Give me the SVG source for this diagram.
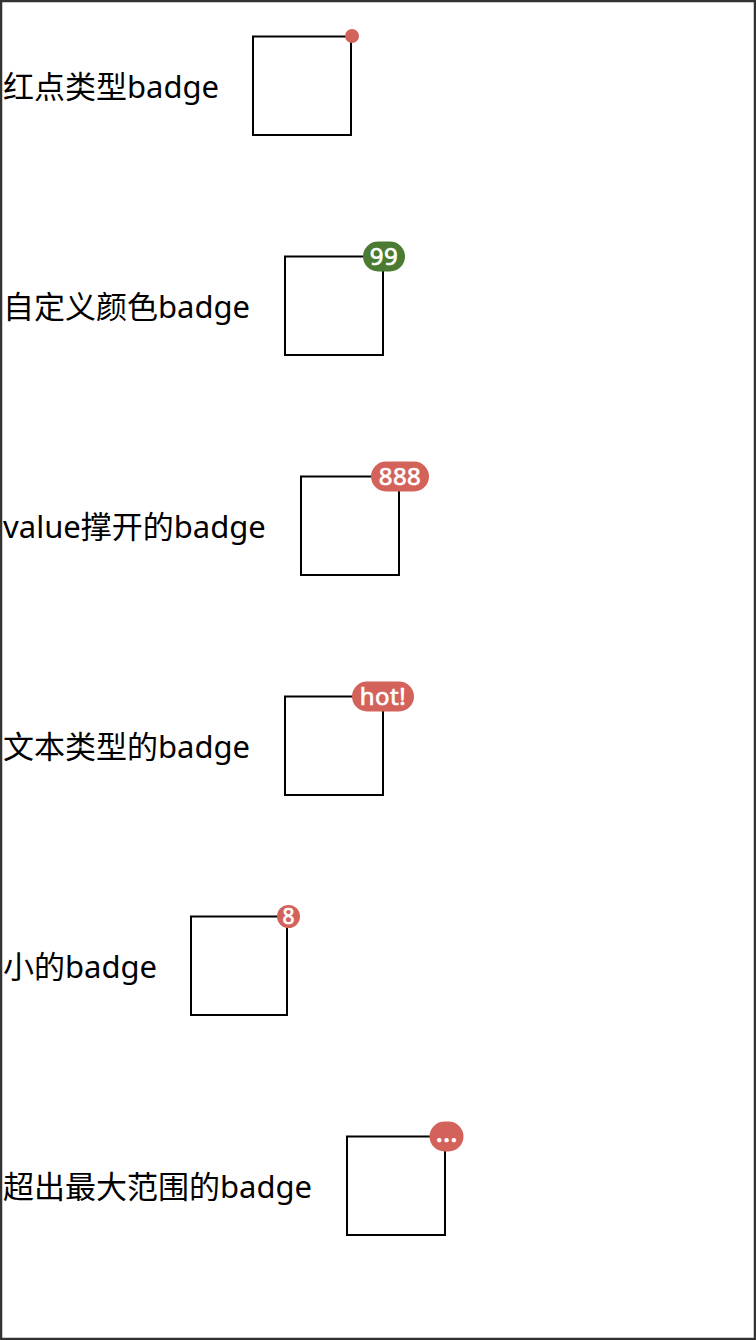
<svg xmlns="http://www.w3.org/2000/svg" width="756" height="1340" viewBox="0 0 756 1340">
<style>
.lbl{font-family:"Noto Sans","Noto Sans CJK SC",sans-serif;font-size:31px;fill:#000}
.box{fill:#fff;stroke:#000;stroke-width:2}
.red{fill:#d3625a}
.green{fill:#4b7a32}
.bt{font-family:"Noto Sans","Liberation Sans",sans-serif;font-size:24px;fill:#fff;stroke:#fff;stroke-width:0.7px;text-anchor:middle;letter-spacing:0.5px}
</style>
<rect x="1" y="1" width="754" height="1338" fill="#fff" stroke="#333" stroke-width="2.5"/>
<g id="row1">
<text class="lbl" x="3" y="98">红点类型badge</text>
<rect class="box" x="253" y="36.5" width="98" height="98.5"/>
<circle class="red" cx="352" cy="36" r="7"/>
</g>
<g id="row2">
<text class="lbl" x="3" y="318">自定义颜色badge</text>
<rect class="box" x="285" y="256.5" width="98" height="98.5"/>
<rect class="green" x="363" y="241.5" width="42" height="30" rx="15"/>
<text class="bt" x="384" y="265">99</text>
</g>
<g id="row3">
<text class="lbl" x="3" y="538">value撑开的badge</text>
<rect class="box" x="301" y="476.5" width="98" height="98.5"/>
<rect class="red" x="371" y="461.5" width="58" height="30" rx="15"/>
<text class="bt" x="400" y="485">888</text>
</g>
<g id="row4">
<text class="lbl" x="3" y="758">文本类型的badge</text>
<rect class="box" x="285" y="696.5" width="98" height="98.5"/>
<rect class="red" x="352" y="681.5" width="62" height="30" rx="15"/>
<text class="bt" x="383" y="705">hot!</text>
</g>
<g id="row5">
<text class="lbl" x="3" y="978">小的badge</text>
<rect class="box" x="191" y="916.5" width="96" height="98.5"/>
<circle class="red" cx="288.5" cy="916.5" r="11.5"/>
<text class="bt" x="288.5" y="924" style="font-size:21px;letter-spacing:0">8</text>
</g>
<g id="row6">
<text class="lbl" x="3" y="1198">超出最大范围的badge</text>
<rect class="box" x="347" y="1136.5" width="98" height="98.5"/>
<rect class="red" x="429.5" y="1121.5" width="34" height="30" rx="15"/>
<text class="bt" x="446.5" y="1142" style="font-size:28px;letter-spacing:0">…</text>
</g>
<g id="connectors"></g>
</svg>
